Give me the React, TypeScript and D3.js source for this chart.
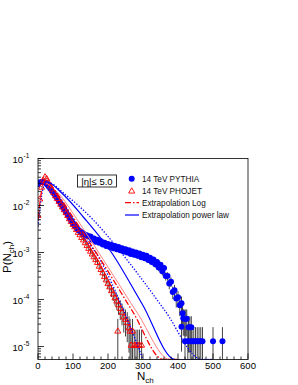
import React from "react";
import * as d3 from "d3";

// ---------- data ----------
const X_TICKS = [0, 100, 200, 300, 400, 500, 600];
const Y_DECADES = [-5, -4, -3, -2, -1];

// PYTHIA 14 TeV: N_ch and log10 P(N_ch)
const pythiaN = [0,5,10,15,20,25,30,35,40,45,50,55,60,65,70,75,80,85,90,95,100,105,110,115,120,125,130,135,140,145,150,155,160,165,170,175,180,185,190,195,200,205,210,215,220,225,230,235,240,245,250,255,260,265,270,275,280,285,290,295,300,305,310,315,320,325,330,335,340,345,350,355,360,365,370,375,380,385,390,395,400,405,410,413,415,418,422,425,410,430,434,438,420,428,435,440,445,450,455,460,465,470,500,527];
const pythiaLogP = [-1.55,-1.51,-1.5,-1.5,-1.51,-1.54,-1.59,-1.64,-1.69,-1.74,-1.8,-1.85,-1.91,-1.96,-2.02,-2.08,-2.14,-2.2,-2.26,-2.32,-2.38,-2.43,-2.48,-2.52,-2.55,-2.58,-2.6,-2.62,-2.64,-2.66,-2.66,-2.73,-2.7,-2.77,-2.73,-2.79,-2.76,-2.83,-2.79,-2.86,-2.82,-2.88,-2.84,-2.91,-2.86,-2.93,-2.88,-2.95,-2.91,-2.98,-2.93,-3.0,-2.95,-3.03,-2.98,-3.05,-3.0,-3.07,-3.02,-3.1,-3.05,-3.12,-3.07,-3.16,-3.11,-3.2,-3.15,-3.25,-3.2,-3.32,-3.26,-3.4,-3.33,-3.5,-3.5,-3.66,-3.62,-3.84,-3.8,-3.98,-3.95,-4.12,-4.08,-4.29,-4.4,-4.41,-4.41,-4.41,-4.58,-4.59,-4.59,-4.59,-4.89,-4.89,-4.89,-4.89,-4.89,-4.89,-4.89,-4.89,-4.89,-4.89,-4.89,-4.89];

// PHOJET 14 TeV
const phojetN = [0,5,10,15,20,25,30,35,40,45,50,55,60,65,70,75,80,85,90,95,100,105,110,115,120,125,130,135,140,145,150,155,160,165,170,175,180,185,190,195,200,205,210,215,220,225,228,230,235,240,245,250,255,260,263,266,270,275,280,285,290,296];
const phojetLogP = [-2.2,-1.85,-1.6,-1.45,-1.38,-1.42,-1.5,-1.57,-1.64,-1.71,-1.78,-1.84,-1.9,-1.96,-2.02,-2.08,-2.14,-2.2,-2.27,-2.33,-2.39,-2.44,-2.5,-2.56,-2.61,-2.67,-2.72,-2.78,-2.84,-2.9,-2.96,-3.02,-3.08,-3.14,-3.2,-3.28,-3.35,-3.42,-3.5,-3.57,-3.65,-3.72,-3.8,-3.87,-3.95,-4.02,-4.66,-4.1,-4.18,-4.26,-4.36,-4.41,-4.48,-4.59,-4.66,-4.96,-4.66,-4.96,-4.96,-4.96,-4.96,-4.96];

// one-count level of the histograms (Poisson errors)
const UNIT_COUNT = 1.3e-5;

// extrapolation curves: [N, log10 P]
const redLogCurve = [[0,-2.3],[10,-1.7],[20,-1.47],[30,-1.52],[60,-1.8],[100,-2.25],[200,-3.4],[270,-4.25],[358,-5.3],[400,-5.3]];
const pinkCurve = [[20,-1.5],[30,-1.55],[65,-1.8],[110,-2.28],[212,-3.45],[285,-4.3],[377,-5.3],[400,-5.3]];
const bluePowerCurve = [[20,-1.5],[25,-1.5],[70,-1.75],[130,-2.25],[210,-3.0],[298,-4.1],[392,-5.3],[500,-5.3]];
const blueDotOuter = [[20,-1.5],[25,-1.5],[80,-1.78],[157,-2.3],[229,-2.92],[300,-3.6],[363,-4.24],[468,-5.3],[500,-5.3]];
const blueDotInner = [[0,-2.45],[10,-1.8],[20,-1.55],[30,-1.58],[60,-1.9],[100,-2.38],[177,-3.15],[244,-4.22],[300,-5.3]];

const LEGEND = ["14 TeV PYTHIA", "14 TeV PHOJET", "Extrapolation Log", "Extrapolation power law"];

// ---------- layout ----------
const W = 298, H = 385;
const L = 38, R = 248, T = 158.5, B = 359.5;
const FONT = "'Liberation Sans', Arial, Helvetica, sans-serif";

export default function App() {
  const x = d3.scaleLinear().domain([0, 600]).range([L, R]);
  const yMin = 5.3e-6;
  const y = d3.scaleLog().domain([yMin, 0.1]).range([B, T]);
  const yc = (p: number) => y(Math.max(p, yMin));

  const line = d3.line<number[]>().x(d => x(d[0])).y(d => yc(Math.pow(10, d[1]))).curve(d3.curveMonotoneX);

  const pythia = pythiaN.map((n, i) => ({ n, p: Math.pow(10, pythiaLogP[i]) }));
  const phojet = phojetN.map((n, i) => ({ n, p: Math.pow(10, phojetLogP[i]) }));

  const errBar = (d: { n: number; p: number }, k: string) => {
    const s = Math.sqrt(d.p * UNIT_COUNT);
    return (
      <line key={k} x1={x(d.n)} x2={x(d.n)} y1={yc(d.p - s)} y2={yc(d.p + s)} stroke="#444" strokeWidth={1} />
    );
  };

  const tri = d3.symbol().type(d3.symbolTriangle).size(16)() as string;

  const xMinor: number[] = [];
  for (let v = 0; v <= 600; v += 20) if (v % 100 !== 0) xMinor.push(v);
  const yMinor: number[] = [];
  for (let e = -6; e <= -2; e++) for (let m = 2; m <= 9; m++) {
    const v = m * Math.pow(10, e);
    if (v >= yMin && v <= 0.1) yMinor.push(v);
  }

  return (
    <svg width={W} height={H} style={{ position: "absolute", left: 0, top: 0, background: "#fff" }} fontFamily={FONT}>
      <defs>
        <clipPath id="frame"><rect x={L} y={T - 4} width={R - L} height={B - T + 4} /></clipPath>
      </defs>
      <rect width={W} height={H} fill="#fff" />

      <g clipPath="url(#frame)">
        {pythia.map((d, i) => errBar(d, "pe" + i))}
        {phojet.map((d, i) => errBar(d, "je" + i))}
        {pythia.map((d, i) => (
          <circle key={"p" + i} cx={x(d.n)} cy={yc(d.p)} r={3} fill="#0000ff" />
        ))}
        {phojet.map((d, i) => (
          <path key={"j" + i} d={tri} transform={`translate(${x(d.n)},${yc(d.p) + 0.8})`} fill="none" stroke="#ff0000" strokeWidth={0.9} />
        ))}
        <path d={line(blueDotInner) || ""} fill="none" stroke="#0000ff" strokeWidth={1.3} strokeDasharray="1.3 1.7" />
        <path d={line(pinkCurve) || ""} fill="none" stroke="#ff8080" strokeWidth={1} />
        <path d={line(redLogCurve) || ""} fill="none" stroke="#ff0000" strokeWidth={1.3} strokeDasharray="6 2 1.5 2" />
        <path d={line(bluePowerCurve) || ""} fill="none" stroke="#0000ff" strokeWidth={1.2} />
        <path d={line(blueDotOuter) || ""} fill="none" stroke="#0000ff" strokeWidth={1.3} strokeDasharray="1.3 1.7" />
      </g>

      <rect x={L} y={T} width={R - L} height={B - T} fill="none" stroke="#000" strokeWidth={0.8} />

      {X_TICKS.map(v => (
        <g key={"xt" + v}>
          <line x1={x(v)} x2={x(v)} y1={B} y2={B - 6} stroke="#000" strokeWidth={0.8} />
          <text x={x(v)} y={B + 9} fontSize={9.5} textAnchor="middle" fill="#000">{v}</text>
        </g>
      ))}
      {xMinor.map(v => (
        <line key={"xm" + v} x1={x(v)} x2={x(v)} y1={B} y2={B - 3} stroke="#000" strokeWidth={0.8} />
      ))}

      {Y_DECADES.map(e => (
        <g key={"yt" + e}>
          <line x1={L} x2={L + 6} y1={y(Math.pow(10, e))} y2={y(Math.pow(10, e))} stroke="#000" strokeWidth={0.8} />
          <text x={23} y={y(Math.pow(10, e)) + 4} fontSize={9.5} textAnchor="end" fill="#000">10</text>
          <text x={23.5} y={y(Math.pow(10, e)) - 1} fontSize={6.5} textAnchor="start" fill="#000">{e}</text>
        </g>
      ))}
      {yMinor.map((v, i) => (
        <line key={"ym" + i} x1={L} x2={L + 3} y1={y(v)} y2={y(v)} stroke="#000" strokeWidth={0.8} />
      ))}

      <text x={137} y={380} fontSize={11.5} fill="#000">N<tspan fontSize={8} dy={3}>ch</tspan></text>
      <text transform="translate(11,273) rotate(-90)" fontSize={11.5} fill="#000">
        P(N<tspan fontSize={8} dy={3}>ch</tspan><tspan dy={-3}>)</tspan>
      </text>

      <rect x={77.5} y={175} width={39} height={12} fill="#fff" stroke="#000" strokeWidth={0.8} />
      <text x={97} y={184.5} fontSize={9.5} textAnchor="middle" fill="#000">|η|≤ 5.0</text>

      <circle cx={131.7} cy={178.7} r={3} fill="#0000ff" />
      <path d={tri} transform={`translate(131.7,${191.3})`} fill="none" stroke="#ff0000" strokeWidth={0.9} />
      <line x1={125} x2={139} y1={202.7} y2={202.7} stroke="#ff0000" strokeWidth={1.3} strokeDasharray="6 2 1.5 2" />
      <line x1={125} x2={139} y1={215} y2={215} stroke="#0000ff" strokeWidth={1.2} />
      {LEGEND.map((t, i) => (
        <text key={"lg" + i} x={142} y={182 + i * 12.1} fontSize={8.2} fill="#111">{t}</text>
      ))}
    </svg>
  );
}
